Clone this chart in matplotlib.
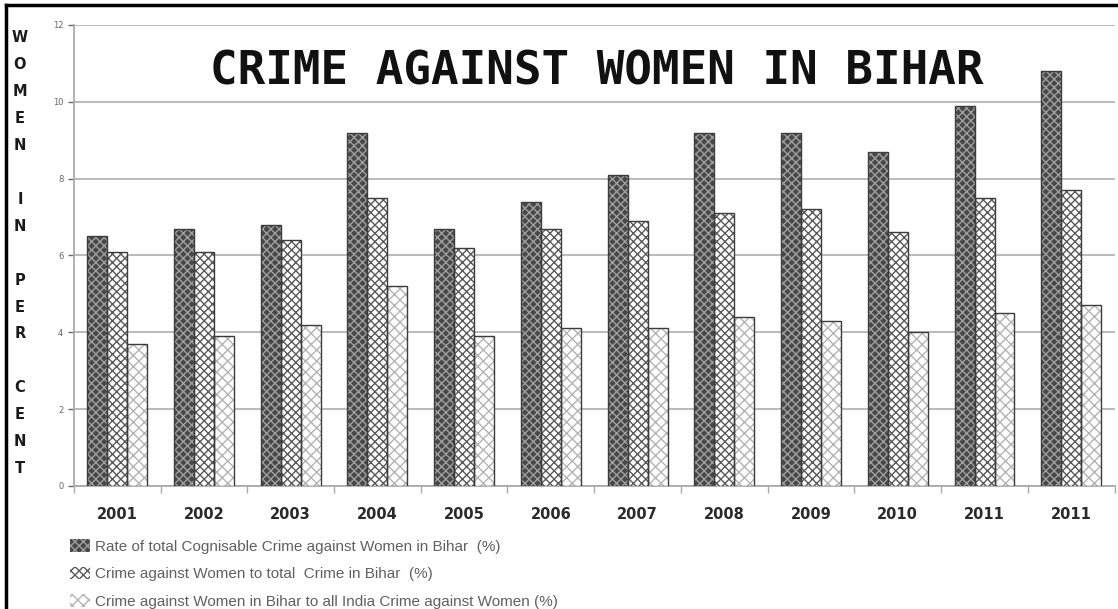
import numpy as np
import matplotlib
matplotlib.use("Agg")
import matplotlib.pyplot as plt
from matplotlib.lines import Line2D
from matplotlib.patches import Patch

years = ["2001", "2002", "2003", "2004", "2005", "2006",
         "2007", "2008", "2009", "2010", "2011", "2011"]
rate_total = [6.5, 6.7, 6.8, 9.2, 6.7, 7.4, 8.1, 9.2, 9.2, 8.7, 9.9, 10.8]
share_bihar = [6.1, 6.1, 6.4, 7.5, 6.2, 6.7, 6.9, 7.1, 7.2, 6.6, 7.5, 7.7]
share_india = [3.7, 3.9, 4.2, 5.2, 3.9, 4.1, 4.1, 4.4, 4.3, 4.0, 4.5, 4.7]
labels = ["Rate of total Cognisable Crime against Women in Bihar  (%)",
          "Crime against Women to total  Crime in Bihar  (%)",
          "Crime against Women in Bihar to all India Crime against Women (%)"]
ylabel_letters = "WOMEN IN PER CENT"

# fill, hatch colour, hatch pattern per series
styles = [("#484848", "#a0a0a0", "xxxx"),
          ("#ffffff", "#5a5a5a", "xxxx"),
          ("#ffffff", "#b4b4b4", "xxx")]

fig = plt.figure(figsize=(11.18, 6.09), dpi=100)
ax = fig.add_axes([0.066, 0.202, 0.931, 0.757])

x = np.arange(len(years))
w = 0.23
series = [rate_total, share_bihar, share_india]
for i, (vals, (fc, hc, hp)) in enumerate(zip(series, styles)):
    pos = x + (i - 1) * w
    ax.bar(pos, vals, w, color=fc, edgecolor=hc, hatch=hp, linewidth=0, zorder=3)
    ax.bar(pos, vals, w, facecolor="none", edgecolor="#3c3c3c", linewidth=1.0, zorder=4)

ax.set_xlim(-0.5, len(years) - 0.5)
ax.set_ylim(0, 12)
ax.set_yticks(range(0, 13, 2))
ax.tick_params(axis="y", labelsize=6, colors="#666666", length=4, width=1)
ax.yaxis.grid(True, color="#b4b4b4", linewidth=1.3)
ax.set_axisbelow(True)

ax.set_xticks(x)
ax.set_xticklabels(years, fontsize=10.5, fontweight="bold", color="#2a2a2a")
ax.tick_params(axis="x", length=0, pad=15)
ax.set_xticks(np.arange(-0.5, len(years), 1), minor=True)
ax.tick_params(axis="x", which="minor", length=5, color="#aaaaaa", width=1)

for s in ["top", "right"]:
    ax.spines[s].set_visible(False)
for s in ["left", "bottom"]:
    ax.spines[s].set_color("#aaaaaa")
    ax.spines[s].set_linewidth(1.3)

fig.text(0.534, 0.882, "CRIME AGAINST WOMEN IN BIHAR", ha="center", va="center",
         family="DejaVu Sans Mono", fontweight="bold", fontsize=33, color="#111111")

# stacked vertical axis title
y0, step = 38, 26.9
for k, ch in enumerate(ylabel_letters):
    if ch == " ":
        continue
    fig.text(20 / 1118, 1 - (y0 + k * step) / 609, ch, ha="center", va="center",
             fontsize=10.5, fontweight="bold", color="#1a1a1a")

handles = [Patch(facecolor=fc, edgecolor=hc, hatch=hp, linewidth=0) for fc, hc, hp in styles]
leg = fig.legend(handles, labels, loc="center left", bbox_to_anchor=(70 / 1118, 1 - 574 / 609),
                 frameon=False, prop={"family": "Liberation Sans", "size": 11},
                 labelspacing=0.85, handlelength=1.3, handleheight=0.9,
                 handletextpad=0.35, borderpad=0, borderaxespad=0)
for t in leg.get_texts():
    t.set_color("#606060")

# frame lines left and top
fig.add_artist(Line2D([6 / 1118, 6 / 1118], [0, 1 - 5 / 609], transform=fig.transFigure,
                      color="black", linewidth=2.5))
fig.add_artist(Line2D([6 / 1118, 1], [1 - 5 / 609, 1 - 5 / 609], transform=fig.transFigure,
                      color="black", linewidth=2.5))

fig.savefig("out.png", dpi=100)
